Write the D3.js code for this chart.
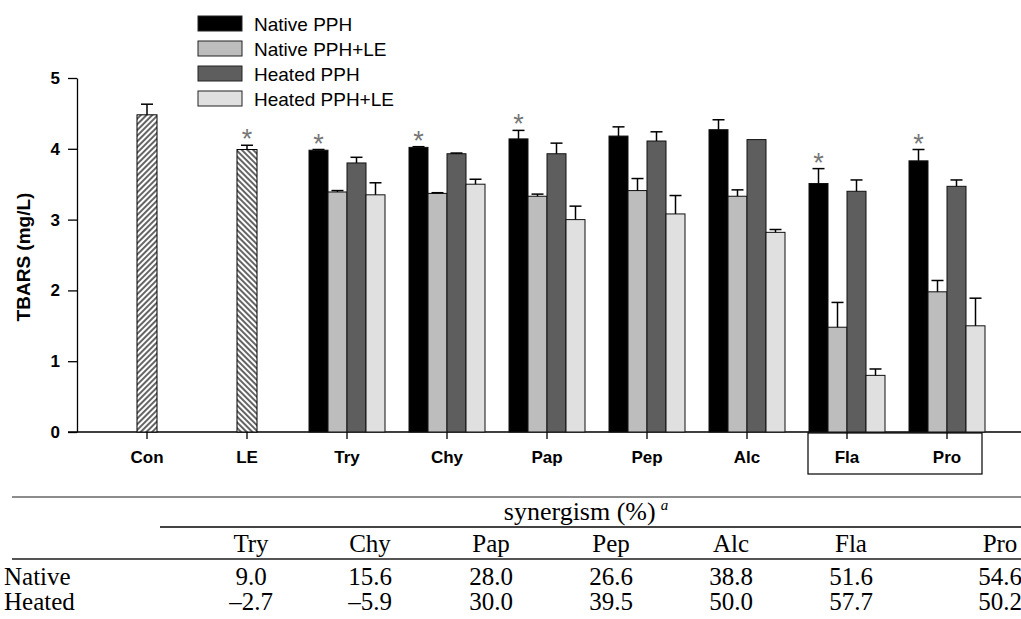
<!DOCTYPE html>
<html>
<head>
<meta charset="utf-8">
<script src="https://cdn.jsdelivr.net/npm/d3@7"></script>
<style>
  html, body { margin: 0; padding: 0; background: #fff; }
  svg { display: block; }
</style>
</head>
<body>
<svg id="chart" width="1021" height="619"></svg>
<script>
// ---------- data ----------
const categories = ["Con", "LE", "Try", "Chy", "Pap", "Pep", "Alc", "Fla", "Pro"];
const singleCats = ["Con", "LE"];
const singleValues = [4.48, 3.99];
const singleErrors = [0.15, 0.06];
const singleSig = [false, true];

const groupCats = ["Try", "Chy", "Pap", "Pep", "Alc", "Fla", "Pro"];
const seriesNames = ["Native PPH", "Native PPH+LE", "Heated PPH", "Heated PPH+LE"];
const nativePPH    = [3.98, 4.02, 4.14, 4.18, 4.27, 3.51, 3.83];
const nativePPHErr = [0.01, 0.01, 0.12, 0.13, 0.14, 0.21, 0.16];
const nativeLE     = [3.39, 3.37, 3.33, 3.41, 3.33, 1.48, 1.98];
const nativeLEErr  = [0.02, 0.01, 0.03, 0.17, 0.09, 0.35, 0.16];
const heatedPPH    = [3.80, 3.93, 3.93, 4.11, 4.13, 3.40, 3.47];
const heatedPPHErr = [0.08, 0.01, 0.15, 0.13, 0.00, 0.16, 0.09];
const heatedLE     = [3.35, 3.50, 3.00, 3.08, 2.82, 0.80, 1.50];
const heatedLEErr  = [0.17, 0.07, 0.19, 0.26, 0.04, 0.09, 0.39];
const nativeSig    = [true, true, true, false, false, true, true];

const yTicks = [0, 1, 2, 3, 4, 5];
const boxedCats = ["Fla", "Pro"];

const synCols   = ["Try", "Chy", "Pap", "Pep", "Alc", "Fla", "Pro"];
const synNative = ["9.0", "15.6", "28.0", "26.6", "38.8", "51.6", "54.6"];
const synHeated = ["\u20132.7", "\u20135.9", "30.0", "39.5", "50.0", "57.7", "50.2"];
const synRows   = ["Native", "Heated"];

// ---------- layout / style ----------
const seriesColors = ["#000000", "#bdbdbd", "#5e5e5e", "#e0e0e0"];
const sans = "'Liberation Sans', Arial, Helvetica, sans-serif";
const serif = "'Liberation Serif', 'Times New Roman', serif";
const synColX = [251, 370, 491, 611, 731, 851, 1000];
const tFont = 25;

const svg = d3.select("#chart");

const x = d3.scaleBand().domain(categories).range([97, 997]);
const y = d3.scaleLinear().domain([0, 5]).range([432, 78]);
const barW = 19;
const cx = c => x(c) + x.bandwidth() / 2;

// patterns
const defs = svg.append("defs");
function hatch(id, angle) {
  const p = defs.append("pattern").attr("id", id)
    .attr("patternUnits", "userSpaceOnUse")
    .attr("width", 4).attr("height", 4)
    .attr("patternTransform", `rotate(${angle})`);
  p.append("rect").attr("width", 4).attr("height", 4).attr("fill", "#fff");
  p.append("line").attr("x1", 1).attr("y1", 0).attr("x2", 1).attr("y2", 4)
    .attr("stroke", "#222").attr("stroke-width", 1.4);
}
hatch("hatchCon", 45);
hatch("hatchLE", -45);

// ---------- axes ----------
const yAxis = svg.append("g").attr("transform", "translate(77,0)")
  .call(d3.axisLeft(y).tickValues(yTicks).tickFormat(d3.format("d"))
    .tickSize(9).tickSizeOuter(0).tickPadding(8));
yAxis.select(".domain").attr("stroke", "#000").attr("stroke-width", 1.3);
yAxis.selectAll(".tick line").attr("stroke", "#000").attr("stroke-width", 1.3);
yAxis.selectAll("text").attr("font-family", sans).attr("font-weight", "bold")
  .attr("font-size", 17).attr("fill", "#000");

const xAxis = svg.append("g").attr("transform", "translate(0,432)")
  .call(d3.axisBottom(x).tickSize(7).tickPadding(12));
xAxis.select(".domain").remove();
xAxis.selectAll(".tick line").attr("stroke", "#000").attr("stroke-width", 1.3);
xAxis.selectAll("text").attr("font-family", sans).attr("font-weight", "bold")
  .attr("font-size", 17).attr("fill", "#000");
svg.append("line").attr("x1", 68).attr("x2", 1021).attr("y1", y(0)).attr("y2", y(0))
  .attr("stroke", "#000").attr("stroke-width", 1.3);

svg.append("text")
  .attr("transform", `translate(30,${(y(0) + y(5)) / 2 + 2}) rotate(-90)`)
  .attr("text-anchor", "middle")
  .attr("font-family", sans).attr("font-weight", "bold").attr("font-size", 19)
  .text("TBARS (mg/L)");

// box around Fla & Pro labels
const bx0 = cx(boxedCats[0]) - 39, bx1 = cx(boxedCats[1]) + 35;
svg.append("rect").attr("x", bx0).attr("y", 433)
  .attr("width", bx1 - bx0).attr("height", 41)
  .attr("fill", "none").attr("stroke", "#000").attr("stroke-width", 1.2);

// ---------- bars ----------
function errBar(g, xc, v, e) {
  if (e <= 0) return;
  g.append("line").attr("x1", xc).attr("x2", xc).attr("y1", y(v)).attr("y2", y(v + e))
    .attr("stroke", "#000").attr("stroke-width", 1.5);
  g.append("line").attr("x1", xc - 6).attr("x2", xc + 6).attr("y1", y(v + e)).attr("y2", y(v + e))
    .attr("stroke", "#000").attr("stroke-width", 1.5);
}
function star(g, xc, top) {
  g.append("text").attr("x", xc).attr("y", top + 3)
    .attr("text-anchor", "middle").attr("font-family", sans).attr("font-size", 27)
    .attr("fill", "#777").text("*");
}

const gBars = svg.append("g");
singleCats.forEach((c, i) => {
  const v = singleValues[i], e = singleErrors[i];
  gBars.append("rect").attr("x", cx(c) - 10).attr("y", y(v))
    .attr("width", 20).attr("height", y(0) - y(v))
    .attr("fill", `url(#${i === 0 ? "hatchCon" : "hatchLE"})`)
    .attr("stroke", "#000").attr("stroke-width", 1);
  errBar(gBars, cx(c), v, e);
  if (singleSig[i]) star(gBars, cx(c), y(v + e));
});

const seriesVals = [nativePPH, nativeLE, heatedPPH, heatedLE];
const seriesErrs = [nativePPHErr, nativeLEErr, heatedPPHErr, heatedLEErr];
groupCats.forEach((c, gi) => {
  seriesVals.forEach((vals, si) => {
    const v = vals[gi], e = seriesErrs[si][gi];
    const x0 = cx(c) - 2 * barW + si * barW;
    gBars.append("rect").attr("x", x0).attr("y", y(v))
      .attr("width", barW).attr("height", y(0) - y(v))
      .attr("fill", seriesColors[si]).attr("stroke", "#111").attr("stroke-width", 1);
    errBar(gBars, x0 + barW / 2, v, e);
    if (si === 0 && nativeSig[gi]) star(gBars, x0 + barW / 2, y(v + e));
  });
});

// ---------- legend ----------
const leg = svg.append("g");
seriesNames.forEach((n, i) => {
  const yy = 16 + i * 25;
  leg.append("rect").attr("x", 198).attr("y", yy).attr("width", 44).attr("height", 15)
    .attr("fill", seriesColors[i]).attr("stroke", "#222").attr("stroke-width", 1);
  leg.append("text").attr("x", 254).attr("y", yy + 15)
    .attr("font-family", sans).attr("font-size", 19).attr("fill", "#000").text(n);
});

// ---------- table ----------
const tb = svg.append("g");
tb.append("line").attr("x1", 12).attr("x2", 1021).attr("y1", 497).attr("y2", 497)
  .attr("stroke", "#666").attr("stroke-width", 1.5);
tb.append("line").attr("x1", 160).attr("x2", 1021).attr("y1", 527).attr("y2", 527)
  .attr("stroke", "#444").attr("stroke-width", 2);
tb.append("line").attr("x1", 12).attr("x2", 1021).attr("y1", 559).attr("y2", 559)
  .attr("stroke", "#555").attr("stroke-width", 1.8);

const synT = tb.append("text").attr("x", 586).attr("y", 520).attr("text-anchor", "middle")
  .attr("font-family", serif).attr("font-size", tFont + 1);
synT.append("tspan").text("synergism (%)");
synT.append("tspan").attr("font-style", "italic").attr("font-size", 15).attr("dx", 5).attr("dy", -10).text("a");

synCols.forEach((c, i) => {
  tb.append("text").attr("x", synColX[i]).attr("y", 552).attr("text-anchor", "middle")
    .attr("font-family", serif).attr("font-size", tFont).text(c);
  tb.append("text").attr("x", synColX[i]).attr("y", 585).attr("text-anchor", "middle")
    .attr("font-family", serif).attr("font-size", tFont).text(synNative[i]);
  tb.append("text").attr("x", synColX[i]).attr("y", 610).attr("text-anchor", "middle")
    .attr("font-family", serif).attr("font-size", tFont).text(synHeated[i]);
});
synRows.forEach((r, i) => {
  tb.append("text").attr("x", 4).attr("y", 585 + i * 25)
    .attr("font-family", serif).attr("font-size", tFont).text(r);
});
</script>
</body>
</html>
